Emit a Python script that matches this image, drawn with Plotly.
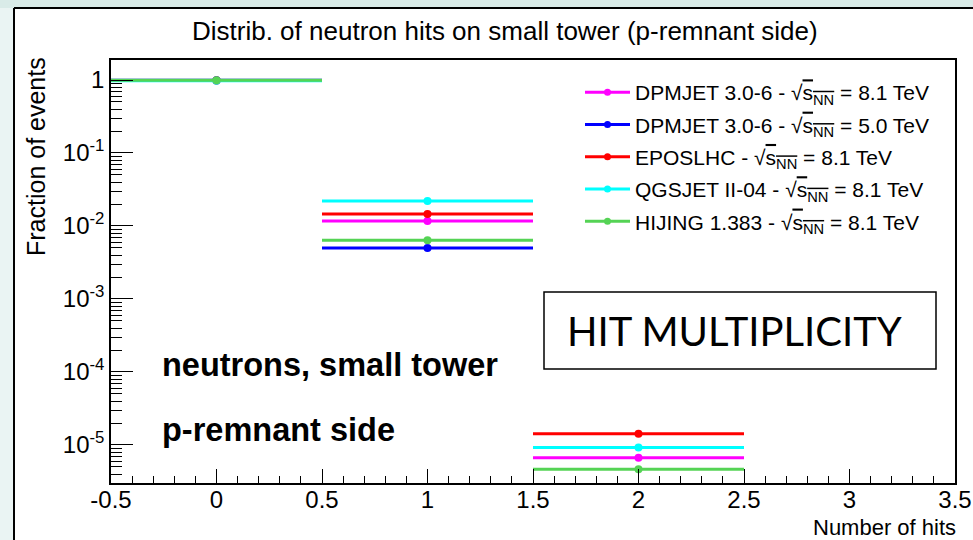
import plotly.graph_objects as go

# ---- data ----
bins = [0, 1, 2]
bin_half_width = [0.5, 0.5, 0.5]
series_names = [
    "DPMJET 3.0-6 - √<span style='text-decoration:overline'>s<sub>NN</sub></span> = 8.1 TeV",
    "DPMJET 3.0-6 - √<span style='text-decoration:overline'>s<sub>NN</sub></span> = 5.0 TeV",
    "EPOSLHC - √<span style='text-decoration:overline'>s<sub>NN</sub></span> = 8.1 TeV",
    "QGSJET II-04 - √<span style='text-decoration:overline'>s<sub>NN</sub></span> = 8.1 TeV",
    "HIJING 1.383 - √<span style='text-decoration:overline'>s<sub>NN</sub></span> = 8.1 TeV",
]
colors = ["#ff00ff", "#0000ff", "#ff0000", "#00ffff", "#55d355"]
dpmjet_81 = [0.988, 0.0117, 6.7e-6]
dpmjet_50 = [0.995, 0.0050, None]
eposlhc = [0.985, 0.0146, 1.43e-5]
qgsjet = [0.978, 0.022, 9.2e-6]
hijing = [0.993, 0.0064, 4.65e-6]
values = [dpmjet_81, dpmjet_50, eposlhc, qgsjet, hijing]

xtick_vals = [-0.5, 0, 0.5, 1, 1.5, 2, 2.5, 3, 3.5]
xtick_text = ["-0.5", "0", "0.5", "1", "1.5", "2", "2.5", "3", "3.5"]
ytick_vals = [1e-5, 1e-4, 1e-3, 1e-2, 1e-1, 1]
ytick_text = ["10<sup>-5</sup>", "10<sup>-4</sup>", "10<sup>-3</sup>",
              "10<sup>-2</sup>", "10<sup>-1</sup>", "1"]

W, H = 973, 540
L, R, T, B = 111, 955, 60, 483


def px(x):
    return (x - L) / (R - L)


def py(y):
    return (B - y) / (B - T)


fig = go.Figure()
for name, col, vals in zip(series_names, colors, values):
    fig.add_trace(go.Scatter(
        x=bins, y=vals, mode="markers",
        marker=dict(color=col, size=8),
        error_x=dict(type="data", array=bin_half_width, symmetric=True,
                     color=col, thickness=3, width=0),
        showlegend=False, hoverinfo="x+y"))
for name, col in zip(series_names, colors):
    fig.add_trace(go.Scatter(
        x=[None], y=[None], mode="lines+markers", name=name,
        line=dict(color=col, width=3), marker=dict(color=col, size=7),
        legendgroup=name))

font = "Liberation Sans, Arial, sans-serif"
fig.update_layout(
    template="none",
    width=W, height=H,
    margin=dict(l=L, r=W - R, t=T, b=H - B, autoexpand=False),
    paper_bgcolor="white", plot_bgcolor="white",
    font=dict(family=font, color="black", size=24),
    showlegend=True,
    legend=dict(x=px(580), y=py(72), xanchor="left", yanchor="top",
                bgcolor="rgba(0,0,0,0)", font=dict(size=21, family=font),
                traceorder="grouped", tracegroupgap=2, itemwidth=45),
    xaxis=dict(range=[-0.5, 3.5], tickvals=xtick_vals, ticktext=xtick_text,
               automargin=False, ticklabelstandoff=-6,
               showline=True, linecolor="black", linewidth=1.5, mirror=True,
               ticks="inside", ticklen=14, tickcolor="black",
               minor=dict(ticks="inside", ticklen=7, dtick=0.1, tickcolor="black",
                          showgrid=False),
               showgrid=False, zeroline=False, tickfont=dict(size=24)),
    yaxis=dict(type="log", range=[-5.521, 0.274],
               tickvals=ytick_vals, ticktext=ytick_text, automargin=False,
               showline=True, linecolor="black", linewidth=1.5, mirror=True,
               ticks="inside", ticklen=22, tickcolor="black",
               minor=dict(ticks="inside", ticklen=11, tickcolor="black",
                          dtick="D1", showgrid=False),
               showgrid=False, zeroline=False, tickfont=dict(size=24)),
)

# slide decoration (outer band and border)
fig.add_shape(type="rect", xref="paper", yref="paper",
              x0=px(0), x1=px(W), y0=py(8), y1=py(0),
              fillcolor="#d9ebe8", line_width=0, layer="below")
fig.add_shape(type="rect", xref="paper", yref="paper",
              x0=px(0), x1=px(14), y0=py(H), y1=py(8),
              fillcolor="#eaf4f3", line_width=0, layer="below")
fig.add_shape(type="line", xref="paper", yref="paper",
              x0=px(14), x1=px(W), y0=py(8), y1=py(8),
              line=dict(color="black", width=2))
fig.add_shape(type="line", xref="paper", yref="paper",
              x0=px(14), x1=px(14), y0=py(8), y1=py(H),
              line=dict(color="black", width=2))

# HIT MULTIPLICITY box
fig.add_shape(type="rect", xref="paper", yref="paper",
              x0=px(544), x1=px(936), y0=py(369), y1=py(292),
              line=dict(color="black", width=1.5), fillcolor="white")

anns = [
    dict(text="Distrib. of neutron hits on small tower (p-remnant side)",
         x=px(505), y=py(31), xanchor="center", yanchor="middle",
         font=dict(size=26)),
    dict(text="Fraction of events", x=px(36), y=py(157), textangle=-90,
         xanchor="center", yanchor="middle", font=dict(size=25)),
    dict(text="Number of hits", x=px(958), y=py(527), xanchor="right",
         yanchor="middle", font=dict(size=22)),
    dict(text="<b>neutrons, small tower</b>", x=px(160), y=py(365),
         xanchor="left", yanchor="middle", font=dict(size=32.5)),
    dict(text="<b>p-remnant side</b>", x=px(160), y=py(430),
         xanchor="left", yanchor="middle", font=dict(size=32.5)),
    dict(text="HIT MULTIPLICITY", x=px(734), y=py(331), xanchor="center",
         yanchor="middle", font=dict(size=40, family="Lato, Open Sans, sans-serif")),
]
for a in anns:
    fig.add_annotation(xref="paper", yref="paper", showarrow=False, **a)

fig.write_html("out.html")
